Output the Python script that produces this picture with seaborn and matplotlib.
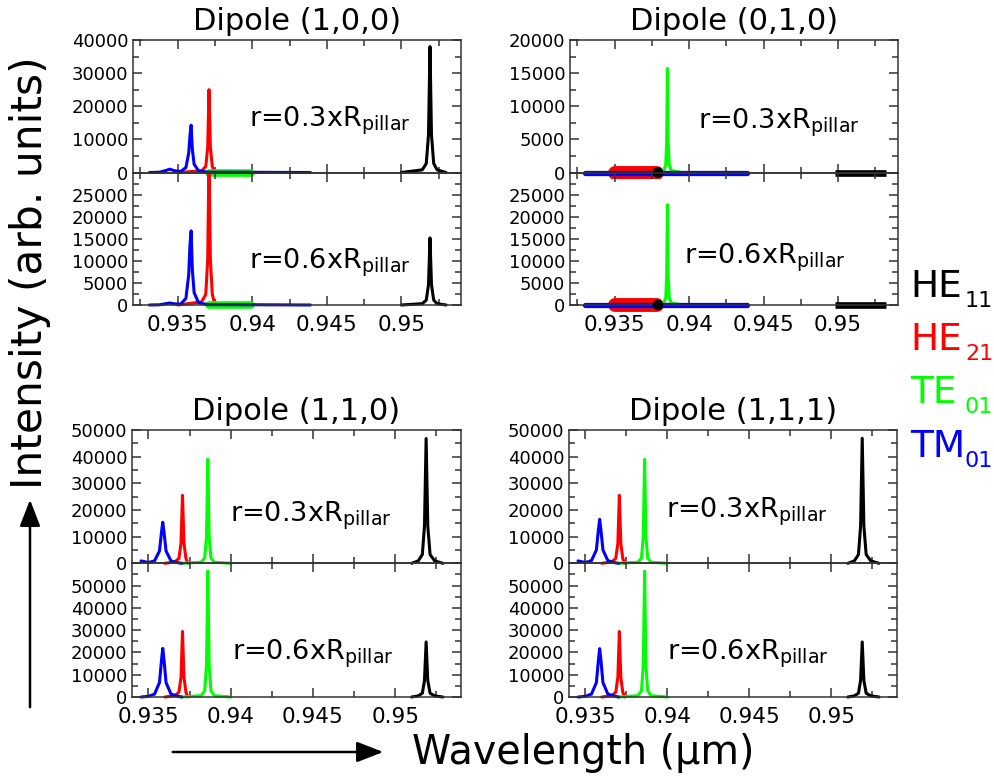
import matplotlib
matplotlib.use("Agg")
import matplotlib.pyplot as plt
import seaborn as sns
from matplotlib.ticker import MultipleLocator, FuncFormatter
from matplotlib.patches import Rectangle, FancyArrowPatch

# ---------------------------------------------------------------- data
# wavelength grids (um) for each mode
top_he11_wl = [0.9500, 0.9514, 0.95167, 0.95182, 0.95192, 0.95202, 0.95217, 0.9524, 0.9530]
top_he21_wl = [0.9350, 0.9366, 0.93688, 0.93701, 0.9371, 0.93719, 0.93732, 0.9375]
top_tm01_wl = [0.9331, 0.9338, 0.9342, 0.93447, 0.9348, 0.9352, 0.93555, 0.93574,
               0.93582, 0.9359, 0.93598, 0.9361, 0.9364, 0.9370, 0.9439]
top_te01_band_wl = [0.9371, 0.9399]

d010_he21_band_wl = [0.9350, 0.93785]
d010_he11_band_wl = [0.9498, 0.9532]
d010_he11_dot_wl = [0.9379]
d010_tm01_wl = [0.9330, 0.9439]
d010_te01_wl = [0.9380, 0.93830, 0.93843, 0.93849, 0.93854, 0.93859, 0.93866, 0.9388, 0.9395]

bot_he11_wl = [0.9510, 0.9514, 0.95165, 0.95178, 0.95188, 0.95198, 0.95212, 0.9524, 0.9529]
bot_he21_wl = [0.9360, 0.9366, 0.93685, 0.93698, 0.93707, 0.93716, 0.93728, 0.9374]
bot_te01_wl = [0.9370, 0.9382, 0.93842, 0.93853, 0.93861, 0.93869, 0.9388, 0.9390, 0.9400]
bot_tm01_wl = [0.93455, 0.9350, 0.93537, 0.93567, 0.93579, 0.93587, 0.93595,
               0.93607, 0.93637, 0.9368, 0.93703]

# intensities (arb. units)
d100_r3_he11 = [0, 800, 2700, 11400, 38000, 11400, 2700, 800, 0]
d100_r3_he21 = [0, 500, 1800, 7500, 25000, 7500, 1800, 0]
d100_r3_tm01 = [0, 100, 600, 1000, 500, 300, 1500, 6000, 11000, 14300, 7000, 2500, 500, 100, 0]
d100_r3_te01 = [0, 0]
d100_r6_he11 = [0, 300, 1100, 4600, 15200, 4600, 1100, 300, 0]
d100_r6_he21 = [0, 700, 2400, 10200, 34000, 10200, 2400, 0]
d100_r6_tm01 = [0, 50, 300, 450, 250, 200, 1500, 7000, 13500, 16800, 8000, 2800, 500, 100, 0]
d100_r6_te01 = [0, 0]

d010_r3_he21 = [0, 0]
d010_r3_he11 = [0, 0]
d010_r3_he11_dot = [0]
d010_r3_tm01 = [0, 0]
d010_r3_te01 = [0, 300, 1200, 4700, 15700, 4700, 1200, 300, 0]
d010_r6_he21 = [0, 0]
d010_r6_he11 = [0, 0]
d010_r6_he11_dot = [0]
d010_r6_tm01 = [0, 0]
d010_r6_te01 = [0, 450, 1700, 6800, 22700, 6800, 1700, 450, 0]

d110_r3_he11 = [0, 900, 3300, 14000, 46800, 14000, 3300, 900, 0]
d110_r3_he21 = [0, 500, 1800, 7500, 25500, 7500, 1800, 0]
d110_r3_te01 = [0, 400, 2000, 10000, 39000, 10000, 2000, 400, 0]
d110_r3_tm01 = [900, 300, 900, 4600, 11500, 15400, 11500, 4600, 900, 200, 0]
d110_r6_he11 = [0, 500, 1700, 7400, 24700, 7400, 1700, 500, 0]
d110_r6_he21 = [0, 600, 2100, 8800, 29400, 8800, 2100, 0]
d110_r6_te01 = [0, 600, 2800, 14500, 56500, 14500, 2800, 600, 0]
d110_r6_tm01 = [0, 300, 1300, 6500, 16300, 21800, 16300, 6500, 1300, 300, 0]

d111_r3_he11 = [0, 900, 3300, 14000, 46900, 14000, 3300, 900, 0]
d111_r3_he21 = [0, 500, 1800, 7500, 25500, 7500, 1800, 0]
d111_r3_te01 = [0, 400, 2000, 10000, 39000, 10000, 2000, 400, 0]
d111_r3_tm01 = [900, 300, 1000, 5000, 12400, 16500, 12400, 5000, 1000, 200, 0]
d111_r6_he11 = [0, 500, 1700, 7400, 24700, 7400, 1700, 500, 0]
d111_r6_he21 = [0, 600, 2100, 8800, 29400, 8800, 2100, 0]
d111_r6_te01 = [0, 600, 2800, 14500, 56500, 14500, 2800, 600, 0]
d111_r6_tm01 = [0, 300, 1300, 6500, 16300, 21700, 16300, 6500, 1300, 300, 0]

mode_names = ["HE", "HE", "TE", "TM"]
mode_subs = ["11", "21", "01", "01"]
mode_colors = ["#000000", "#ff0000", "#00ff00", "#0000ff"]
BLACK, RED, GREEN, BLUE = mode_colors

panel_titles = ["Dipole (1,0,0)", "Dipole (0,1,0)", "Dipole (1,1,0)", "Dipole (1,1,1)"]
radius_labels = ["r=0.3xR$_{\\mathrm{pillar}}$", "r=0.6xR$_{\\mathrm{pillar}}$"]

# ---------------------------------------------------------------- style
sns.set_theme(style="ticks")
plt.rcParams["font.family"] = ["DejaVu Sans"]
plt.rcParams["mathtext.fontset"] = "dejavusans"
plt.rcParams["text.color"] = "black"
plt.rcParams["axes.titlecolor"] = "black"
SPINE = "#333333"

W, H = 994, 782
fig = plt.figure(figsize=(W / 100, H / 100), dpi=100)


def px_axes(left, top, right, bottom):
    return fig.add_axes([left / W, 1 - bottom / H, (right - left) / W, (bottom - top) / H])


def curve(ax, wl, inten, color, lw=2.2, **kw):
    sns.lineplot(x=wl, y=inten, ax=ax, color=color, lw=lw, estimator=None,
                 sort=False, legend=False, **kw)


def style_axes(ax, xlim, ylim, yticks, ystep_minor, show_x):
    ax.set_facecolor("none")
    ax.set_xlim(*xlim)
    ax.set_ylim(*ylim)
    ax.set_xlabel("")
    ax.set_ylabel("")
    ax.xaxis.set_major_locator(MultipleLocator(0.005))
    ax.xaxis.set_minor_locator(MultipleLocator(0.0025))
    ax.xaxis.set_major_formatter(FuncFormatter(lambda v, p: f"{v:g}"))
    ax.set_yticks(yticks)
    ax.yaxis.set_minor_locator(MultipleLocator(ystep_minor))
    ax.yaxis.set_major_formatter(FuncFormatter(lambda v, p: f"{v:.0f}"))
    ax.tick_params(which="both", direction="in", top=True, right=True,
                   color=SPINE, width=1.1, labelcolor="black")
    ax.tick_params(which="major", length=6.5)
    ax.tick_params(which="minor", length=4)
    ax.tick_params(axis="x", pad=7.5, labelbottom=show_x, labelsize=15.5)
    ax.tick_params(axis="y", pad=3.5, labelsize=13)
    for s in ax.spines.values():
        s.set_color(SPINE)
        s.set_linewidth(1.1)
    clip = Rectangle((0, -0.05), 1, 1.05, transform=ax.transAxes)
    for ln in ax.lines:
        ln.set_clip_path(clip)


def radius_text(ax, x, y, txt):
    ax.text(x, y, txt, transform=ax.transAxes, fontsize=19.5, ha="left", va="baseline")


xlim_top = (0.932, 0.954)
xlim_bot = (0.934, 0.954)

# ------------------------------------------------ Dipole (1,0,0)
tl_u = px_axes(133, 40, 461, 172.5)
tl_l = px_axes(133, 172.5, 461, 305)
for ax, he11, he21, te01, tm01 in [(tl_u, d100_r3_he11, d100_r3_he21, d100_r3_te01, d100_r3_tm01),
                                   (tl_l, d100_r6_he11, d100_r6_he21, d100_r6_te01, d100_r6_tm01)]:
    curve(ax, top_he11_wl, he11, BLACK)
    curve(ax, top_he21_wl, he21, RED)
    curve(ax, top_te01_band_wl, te01, GREEN, lw=5.5)
    curve(ax, top_tm01_wl, tm01, BLUE)
style_axes(tl_u, xlim_top, (0, 40000), [0, 10000, 20000, 30000, 40000], 5000, False)
style_axes(tl_l, xlim_top, (0, 30000), [0, 5000, 10000, 15000, 20000, 25000], 2500, True)
radius_text(tl_u, 0.354, 0.346, radius_labels[0])
radius_text(tl_l, 0.354, 0.277, radius_labels[1])
tl_u.set_title(panel_titles[0], fontsize=22, pad=7)

# ------------------------------------------------ Dipole (0,1,0)
tr_u = px_axes(570, 40, 897.7, 172.5)
tr_l = px_axes(570, 172.5, 897.7, 305)
for ax, he21, he11, dot, tm01, te01 in [(tr_u, d010_r3_he21, d010_r3_he11, d010_r3_he11_dot, d010_r3_tm01, d010_r3_te01),
                                        (tr_l, d010_r6_he21, d010_r6_he11, d010_r6_he11_dot, d010_r6_tm01, d010_r6_te01)]:
    curve(ax, d010_he11_band_wl, he11, BLACK, lw=4.8, solid_capstyle="butt")
    curve(ax, d010_he21_band_wl, he21, RED, lw=10, solid_capstyle="round")
    curve(ax, d010_te01_wl, te01, GREEN)
    curve(ax, d010_tm01_wl, tm01, BLUE, lw=3.8)
    sns.scatterplot(x=d010_he11_dot_wl, y=dot, ax=ax, color=BLACK, s=58,
                    edgecolor="none", legend=False, zorder=4, clip_on=False)
style_axes(tr_u, xlim_top, (0, 20000), [0, 5000, 10000, 15000, 20000], 2500, False)
style_axes(tr_l, xlim_top, (0, 30000), [0, 5000, 10000, 15000, 20000, 25000], 2500, True)
radius_text(tr_u, 0.39, 0.334, radius_labels[0])
radius_text(tr_l, 0.348, 0.315, radius_labels[1])
tr_u.set_title(panel_titles[1], fontsize=22, pad=7)

# ------------------------------------------------ Dipole (1,1,0) and (1,1,1)
bl_u = px_axes(132, 430, 461, 563.3)
bl_l = px_axes(132, 563.3, 461, 697)
br_u = px_axes(569, 430, 897, 563.3)
br_l = px_axes(569, 563.3, 897, 697)
for ax, he11, he21, te01, tm01 in [(bl_u, d110_r3_he11, d110_r3_he21, d110_r3_te01, d110_r3_tm01),
                                   (bl_l, d110_r6_he11, d110_r6_he21, d110_r6_te01, d110_r6_tm01),
                                   (br_u, d111_r3_he11, d111_r3_he21, d111_r3_te01, d111_r3_tm01),
                                   (br_l, d111_r6_he11, d111_r6_he21, d111_r6_te01, d111_r6_tm01)]:
    curve(ax, bot_he11_wl, he11, BLACK)
    curve(ax, bot_he21_wl, he21, RED)
    curve(ax, bot_te01_wl, te01, GREEN)
    curve(ax, bot_tm01_wl, tm01, BLUE)
for up, lo in [(bl_u, bl_l), (br_u, br_l)]:
    style_axes(up, xlim_bot, (0, 50000), [0, 10000, 20000, 30000, 40000, 50000], 5000, False)
    style_axes(lo, xlim_bot, (0, 60000), [0, 10000, 20000, 30000, 40000, 50000], 5000, True)
radius_text(bl_u, 0.298, 0.312, radius_labels[0])
radius_text(bl_l, 0.303, 0.277, radius_labels[1])
radius_text(br_u, 0.296, 0.345, radius_labels[0])
radius_text(br_l, 0.298, 0.277, radius_labels[1])
bl_u.set_title(panel_titles[2], fontsize=22, pad=7)
br_u.set_title(panel_titles[3], fontsize=22, pad=7)

# ------------------------------------------------ mode key
for i, (name, sub, col) in enumerate(zip(mode_names, mode_subs, mode_colors)):
    base = 296.7 + 53.3 * i
    fig.text(910 / W, 1 - base / H, name, color=col, fontsize=27, ha="left", va="baseline")
    fig.text(965 / W, 1 - (base + 10) / H, sub, color=col, fontsize=16, ha="left", va="baseline")

# ------------------------------------------------ axis captions with arrows
fig.text(30 / W, 1 - 273 / H, "Intensity (arb. units)", rotation=90, fontsize=30.5,
         ha="center", va="center")
fig.text(583 / W, 1 - 753 / H, "Wavelength (\u03bcm)", fontsize=28.5, ha="center", va="center")

arrow_kw = dict(transform=fig.transFigure, arrowstyle="-|>,head_length=0.9,head_width=0.35",
                mutation_scale=18, color="black", lw=1.8)
fig.add_artist(FancyArrowPatch((30 / W, 1 - 710 / H), (30 / W, 1 - 497 / H), **arrow_kw))
fig.add_artist(FancyArrowPatch((170 / W, 1 - 752 / H), (386 / W, 1 - 752 / H), **arrow_kw))

fig.savefig("out.png", dpi=100)
